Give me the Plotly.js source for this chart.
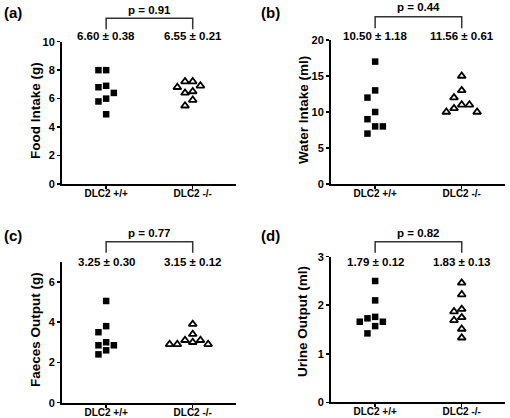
<!DOCTYPE html>
<html>
<head>
<meta charset="utf-8">
<script src="https://cdn.plot.ly/plotly-3.0.1.min.js"></script>
<style>html,body{margin:0;padding:0;background:#fff}#chart{width:510px;height:418px}</style>
</head>
<body>
<div id="chart"></div>
<script>
// ---------------- data ----------------
const categories = ['DLC2 +/+', 'DLC2 -/-'];

const foodWT   = [8.0, 8.0, 6.9, 6.8, 6.4, 6.0, 5.8, 4.9];
const foodKO   = [7.2, 7.2, 6.9, 6.8, 6.5, 6.4, 5.9, 5.5];
const waterWT  = [17, 13, 12, 10, 9, 8, 8, 7];
const waterKO  = [15, 13, 12, 11, 11, 10.5, 10, 10];
const faecesWT = [5.05, 3.8, 3.5, 3.0, 2.85, 2.85, 2.6, 2.4];
const faecesKO = [3.9, 3.4, 3.1, 3.1, 3.0, 2.9, 2.9, 2.9];
const urineWT  = [2.5, 2.1, 1.76, 1.73, 1.66, 1.66, 1.57, 1.42];
const urineKO  = [2.46, 2.22, 1.92, 1.87, 1.75, 1.69, 1.51, 1.33];

const meanLabels = [
  ['6.60 ± 0.38', '6.55 ± 0.21'],
  ['10.50 ± 1.18', '11.56 ± 0.61'],
  ['3.25 ± 0.30', '3.15 ± 0.12'],
  ['1.79 ± 0.12', '1.83 ± 0.13']
];
const pLabels = ['p = 0.91', 'p = 0.44', 'p = 0.77', 'p = 0.82'];
const yTitles = ['Food Intake (g)', 'Water Intake (ml)', 'Faeces Output (g)', 'Urine Output (ml)'];
const panelLabels = ['(a)', '(b)', '(c)', '(d)'];
const yRanges = [[0, 10], [0, 20], [0, 7], [0, 3]];
const yTickVals = [[0, 2, 4, 6, 8, 10], [0, 5, 10, 15, 20], [0, 2, 4, 6], [0, 1, 2, 3]];

const groups = [[foodWT, foodKO], [waterWT, waterKO], [faecesWT, faecesKO], [urineWT, urineKO]];

// ---------------- geometry (pixels) ----------------
const W = 510, H = 418;
const FONT = 'Liberation Sans, Arial, Helvetica, sans-serif';
const XR = [0.49, 2.5];
const geo = [
  {x0: 62,  x1: 236, yTop: 41.7,  yBot: 184,   pY: 10,    brY: 18.3,  legY: 29.3,  mY: 36,    titleX: 35,  titleY: 111, lblX: 13,  lblY: 13},
  {x0: 331, x1: 505, yTop: 40,    yBot: 184,   pY: 7.5,   brY: 16.7,  legY: 28.3,  mY: 36,    titleX: 304, titleY: 110, lblX: 270, lblY: 13},
  {x0: 62,  x1: 236, yTop: 261.7, yBot: 402.7, pY: 233.3, brY: 241.7, legY: 252.7, mY: 261.7, titleX: 35,  titleY: 330, lblX: 13,  lblY: 236},
  {x0: 331, x1: 505, yTop: 256.7, yBot: 402.3, pY: 232.7, brY: 241.7, legY: 252.7, mY: 261.7, titleX: 302, titleY: 322, lblX: 270, lblY: 236}
];
const px = v => v / W;
const py = v => 1 - v / H;

// simple beeswarm: spreads points that would overlap horizontally
function swarm(values, center, pxPerY, pxPerX) {
  const thr = 7.5 / pxPerY;        // vertical overlap threshold in data units
  const step = 7.7 / pxPerX;       // column spacing in data units
  const idx = values.map((v, i) => i).sort((a, b) => values[b] - values[a]);
  const placed = [];
  const xs = new Array(values.length);
  const order = [0, -1, 1, -2, 2, -3, 3];
  idx.forEach(i => {
    const v = values[i];
    for (const c of order) {
      const clash = placed.some(p => p.c === c && Math.abs(p.v - v) < thr);
      if (!clash) { placed.push({c, v}); xs[i] = center + c * step; break; }
    }
  });
  return xs;
}

const traces = [];
const layout = {
  width: W, height: H,
  margin: {l: 0, r: 0, t: 0, b: 0},
  paper_bgcolor: '#fff', plot_bgcolor: '#fff',
  showlegend: false,
  font: {family: FONT, color: '#000'},
  annotations: [], shapes: []
};

groups.forEach((g, k) => {
  const G = geo[k];
  const n = k === 0 ? '' : String(k + 1);
  const xa = 'xaxis' + n, ya = 'yaxis' + n;
  const xr = 'x' + n, yr = 'y' + n;
  const pxPerX = (G.x1 - G.x0) / (XR[1] - XR[0]);
  const pxPerY = (G.yBot - G.yTop) / (yRanges[k][1] - yRanges[k][0]);

  layout[xa] = {
    domain: [px(G.x0), px(G.x1)], range: XR, anchor: yr,
    tickmode: 'array', tickvals: [1, 2], ticktext: categories,
    showline: true, linewidth: 2, linecolor: '#000',
    ticks: 'outside', ticklen: 3, tickwidth: 1.5, tickcolor: '#000',
    ticklabelstandoff: -4,
    showgrid: false, zeroline: false, fixedrange: true,
    tickfont: {family: FONT, size: 10, weight: 'bold', color: '#000'}
  };
  layout[ya] = {
    domain: [py(G.yBot), py(G.yTop)], range: yRanges[k], anchor: xr,
    tickmode: 'array', tickvals: yTickVals[k],
    showline: true, linewidth: 2, linecolor: '#000',
    ticks: 'outside', ticklen: 3, tickwidth: 1.5, tickcolor: '#000',
    showgrid: false, zeroline: false, fixedrange: true,
    tickfont: {family: FONT, size: 11, weight: 'bold', color: '#000'}
  };

  // WT squares
  traces.push({
    type: 'scatter', mode: 'markers', xaxis: xr, yaxis: yr,
    x: swarm(g[0], 1, pxPerY, pxPerX), y: g[0], cliponaxis: false,
    marker: {symbol: 'square', size: 6.5, color: '#000', line: {width: 0}}
  });
  // KO open triangles
  traces.push({
    type: 'scatter', mode: 'markers', xaxis: xr, yaxis: yr,
    x: swarm(g[1], 2, pxPerY, pxPerX), y: g[1], cliponaxis: false,
    marker: {symbol: 'triangle-up-open', size: 7, color: '#000', line: {width: 1.8, color: '#000'}}
  });

  // mean ± sem labels
  [1, 2].forEach((c, j) => {
    layout.annotations.push({
      xref: xr, yref: 'paper', x: c, y: py(G.mY), text: meanLabels[k][j],
      showarrow: false, xanchor: 'center', yanchor: 'middle',
      font: {family: FONT, size: 11.5, weight: 'bold', color: '#000'}
    });
  });
  // p value
  layout.annotations.push({
    xref: xr, yref: 'paper', x: 1.5, y: py(G.pY), text: pLabels[k],
    showarrow: false, xanchor: 'center', yanchor: 'middle',
    font: {family: FONT, size: 11.5, weight: 'bold', color: '#000'}
  });
  // bracket
  layout.shapes.push({
    type: 'path', xref: xr, yref: 'paper',
    path: `M1,${py(G.legY)} L1,${py(G.brY)} L2,${py(G.brY)} L2,${py(G.legY)}`,
    line: {color: '#333', width: 1.5}
  });
  // y title
  layout.annotations.push({
    xref: 'paper', yref: 'paper', x: px(G.titleX), y: py(G.titleY), text: yTitles[k],
    textangle: -90, showarrow: false, xanchor: 'center', yanchor: 'middle',
    font: {family: FONT, size: 13.5, weight: 'bold', color: '#000'}
  });
  // panel label
  layout.annotations.push({
    xref: 'paper', yref: 'paper', x: px(G.lblX), y: py(G.lblY), text: panelLabels[k],
    showarrow: false, xanchor: 'center', yanchor: 'middle',
    font: {family: FONT, size: 15, weight: 'bold', color: '#000'}
  });
});

Plotly.newPlot('chart', traces, layout, {staticPlot: true, displayModeBar: false});
</script>
</body>
</html>
